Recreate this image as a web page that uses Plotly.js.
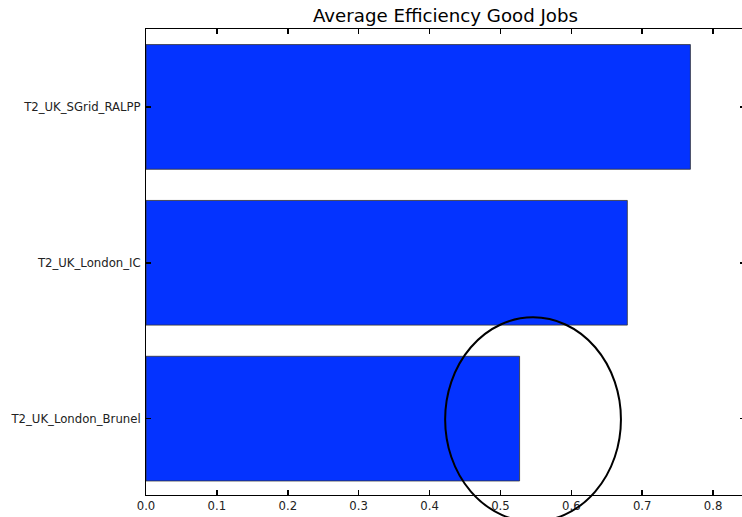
<!DOCTYPE html>
<html>
<head>
<meta charset="utf-8">
<script src="https://cdn.plot.ly/plotly-3.0.1.min.js"></script>
<style>
html, body { margin: 0; padding: 0; overflow: hidden; background: #fff; }
#chart { width: 750px; height: 517px; }
</style>
</head>
<body>
<div id="chart"></div>
<script>
var sites = ['T2_UK_London_Brunel', 'T2_UK_London_IC', 'T2_UK_SGrid_RALPP'];
var efficiency = [0.527, 0.679, 0.768];
var xTickValues = [0.0, 0.1, 0.2, 0.3, 0.4, 0.5, 0.6, 0.7, 0.8];
var xTickLabels = ['0.0', '0.1', '0.2', '0.3', '0.4', '0.5', '0.6', '0.7', '0.8'];
var chartTitle = 'Average Efficiency Good Jobs';

var xRange = [0, 0.845];
var yRange = [-0.49, 2.5];
// highlight ellipse around the lowest bar's end (data coords)
var ellipseX = [0.422, 0.670];
var ellipseY = [-0.66, 0.65];

function toPaperX(v) { return (v - xRange[0]) / (xRange[1] - xRange[0]); }
function toPaperY(v) { return (v - yRange[0]) / (yRange[1] - yRange[0]); }

var trace = {
  type: 'bar',
  orientation: 'h',
  y: sites,
  x: efficiency,
  marker: { color: '#0433ff', line: { color: '#333333', width: 0.8 } },
  hoverinfo: 'x+y'
};

var layout = {
  width: 750,
  height: 517,
  margin: { l: 146, r: 5, t: 29, b: 22, pad: 0 },
  paper_bgcolor: '#ffffff',
  plot_bgcolor: '#ffffff',
  showlegend: false,
  bargap: 0.2,
  font: { family: 'DejaVu Sans, sans-serif', color: '#222222', size: 11.7 },
  title: {
    text: chartTitle,
    font: { family: 'DejaVu Sans, sans-serif', size: 18.2, color: '#000000' },
    x: 0.5, xref: 'paper', xanchor: 'center',
    y: 1, yref: 'paper', yanchor: 'bottom', pad: { b: 7 }
  },
  xaxis: {
    range: xRange,
    tickvals: xTickValues,
    ticktext: xTickLabels,
    ticks: 'inside', ticklen: 5, tickwidth: 1.5, tickcolor: '#000000',
    showline: true, linecolor: '#000000', linewidth: 1, mirror: 'ticks',
    showgrid: false, zeroline: false,
    tickfont: { size: 11.7, color: '#222222' }
  },
  yaxis: {
    type: 'category',
    range: yRange,
    ticks: 'inside', ticklen: 5, tickwidth: 1.5, tickcolor: '#000000',
    showline: true, linecolor: '#000000', linewidth: 1, mirror: 'ticks',
    showgrid: false, zeroline: false,
    ticklabelstandoff: 2,
    tickfont: { size: 11.7, color: '#222222' }
  },
  shapes: [{
    type: 'circle',
    xref: 'paper', yref: 'paper',
    x0: toPaperX(ellipseX[0]), x1: toPaperX(ellipseX[1]),
    y0: toPaperY(ellipseY[0]), y1: toPaperY(ellipseY[1]),
    line: { color: '#000000', width: 2 },
    fillcolor: 'rgba(0,0,0,0)',
    layer: 'above'
  }]
};

Plotly.newPlot('chart', [trace], layout, { displayModeBar: false, staticPlot: true });
</script>
</body>
</html>
